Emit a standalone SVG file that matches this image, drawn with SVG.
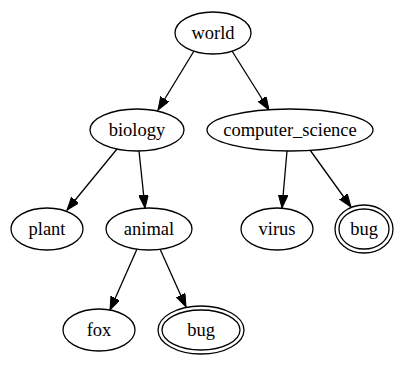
<svg xmlns="http://www.w3.org/2000/svg" width="417" height="365" viewBox="0 0 417 365">
  <style>
    .node ellipse { fill: #ffffff; stroke: #000000; stroke-width: 1.3; }
    .node text { font-family: "Liberation Serif", "Times New Roman", serif; font-size: 18.5px; text-anchor: middle; fill: #000000; }
    .edge line { stroke: #000000; stroke-width: 1.3; marker-end: url(#arrow); }
  </style>
  <defs>
    <marker id="arrow" markerUnits="userSpaceOnUse" markerWidth="14" markerHeight="10" refX="13" refY="4.75" orient="auto">
      <path d="M0,0 L13,4.75 L0,9.5 z" fill="#000000" stroke="#000000" stroke-width="1"/>
    </marker>
  </defs>
  <rect width="417" height="365" fill="#ffffff"/>

  <!-- connectors -->
  <g id="edges" class="edge">
    <line x1="194" y1="51" x2="158" y2="110"/>
    <line x1="232" y1="51" x2="269" y2="110"/>
    <line x1="117" y1="149" x2="67" y2="210"/>
    <line x1="139" y1="151" x2="145" y2="208"/>
    <line x1="287" y1="151" x2="282" y2="208"/>
    <line x1="310" y1="150" x2="351" y2="207"/>
    <line x1="137" y1="249" x2="110" y2="310"/>
    <line x1="160" y1="249" x2="186" y2="307"/>
  </g>

  <!-- nodes -->
  <g id="world" class="node">
    <ellipse cx="213" cy="33" rx="38" ry="21"/>
    <text x="213" y="39">world</text>
  </g>
  <g id="biology" class="node">
    <ellipse cx="137" cy="130" rx="47" ry="21"/>
    <text x="137" y="136">biology</text>
  </g>
  <g id="computer_science" class="node">
    <ellipse cx="290" cy="130" rx="83" ry="21"/>
    <text x="290" y="136">computer_science</text>
  </g>
  <g id="plant" class="node">
    <ellipse cx="47" cy="229" rx="36" ry="21"/>
    <text x="47" y="235">plant</text>
  </g>
  <g id="animal" class="node">
    <ellipse cx="149" cy="229" rx="43" ry="21"/>
    <text x="149" y="235">animal</text>
  </g>
  <g id="virus" class="node">
    <ellipse cx="277" cy="229" rx="36" ry="21"/>
    <text x="277" y="235">virus</text>
  </g>
  <g id="bug_cs" class="node">
    <ellipse cx="364" cy="229" rx="29" ry="24"/>
    <ellipse cx="364" cy="229" rx="25" ry="20"/>
    <text x="364" y="235">bug</text>
  </g>
  <g id="fox" class="node">
    <ellipse cx="99" cy="330" rx="36" ry="21"/>
    <text x="99" y="336">fox</text>
  </g>
  <g id="bug_animal" class="node">
    <ellipse cx="201" cy="330" rx="43" ry="24"/>
    <ellipse cx="201" cy="330" rx="39" ry="20"/>
    <text x="201" y="336">bug</text>
  </g>
</svg>
